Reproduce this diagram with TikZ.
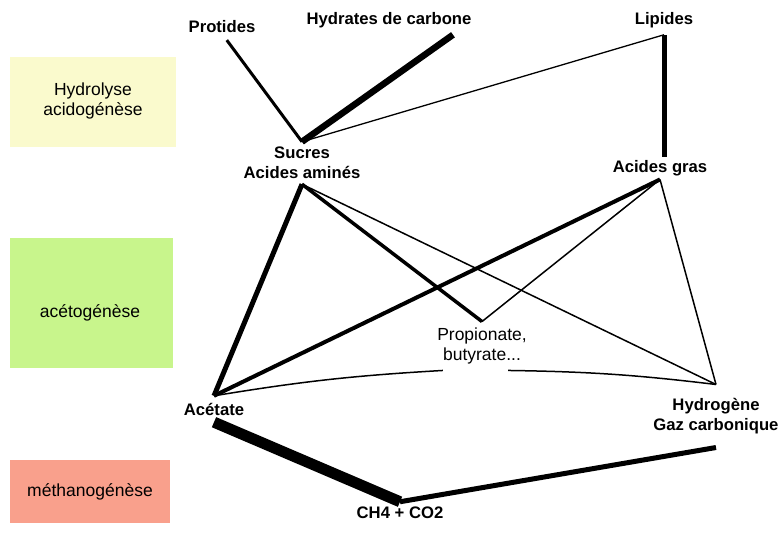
\documentclass[tikz,border=0pt]{standalone}
\usepackage{fontspec}
\setmainfont{Liberation Sans}
\definecolor{hydro}{RGB}{250,250,205}
\definecolor{aceto}{RGB}{200,245,140}
\definecolor{metha}{RGB}{249,160,140}
\begin{document}
\begin{tikzpicture}[x=0.6pt,y=-0.6pt]
\tikzset{lb/.style={font=\fontsize{10}{12}\selectfont\bfseries, align=center, inner xsep=1pt, inner ysep=4pt},
	ph/.style={font=\fontsize{10.5}{12.5}\selectfont, align=center},
	lw/.style={line width=#1*0.6pt}};
\useasboundingbox (0,0) rectangle (779,544);

% phases
\fill[hydro] (10,57) rectangle (176,147);
\fill[aceto] (10,238) rectangle (173,368);
\fill[metha] (10,460) rectangle (170,523);
\node[ph] (p1) at (93,101) {Hydrolyse\\acidogénèse};
\node[ph] (p2) at (90,313) {acétogénèse};
\node[ph] (p3) at (90,492) {méthanogénèse};

% substances
\node[lb] (prot) at (222,27) {Protides};
\node[lb] (hyd) at (389,20) {Hydrates de carbone};
\node[lb] (lip) at (664,20) {Lipides};
\node[lb, inner ysep=3pt] (suc) at (302,163) {Sucres\\Acides aminés};
\node[lb, inner ysep=2pt] (ag) at (660,168) {Acides gras};
\node[ph] (prop) at (482,346) {Propionate,\\butyrate...};
\node[lb] (ace) at (214,409) {Acétate};
\node[lb, inner ysep=8pt] (hy) at (716,416) {Hydrogène\\Gaz carbonique};
\node[lb, inner ysep=3pt] (ch) at (400,513) {CH4 + CO2};

\draw[lw=3] (prot.-70) to (suc.north);
\draw[lw=6.5] (hyd.-13) to (suc.north);
\draw[lw=1.3] (lip.south) to (suc.north);
\draw[lw=5] (lip.south) to (lip.south |- ag.north);

\draw[lw=5] (suc.south) to (ace.north);
\draw[lw=3.5] (suc.south) to (prop.north);
\draw[lw=1.5] (suc.south) to (hy.north);
\draw[lw=4] (ag.south) to (ace.north);
\draw[lw=1.5] (ag.south) to (prop.north);
\draw[lw=1.5] (ag.south) to (hy.north);
\draw[lw=1.5] (ace.north) to[bend left=3] (prop.-148);
\draw[lw=1.5] (prop.-43) to[bend left=3] (hy.north);

\draw[lw=11] (ace.south) to (ch.north);
\draw[lw=5] (hy.south) to (ch.north);
\end{tikzpicture}
\end{document}
